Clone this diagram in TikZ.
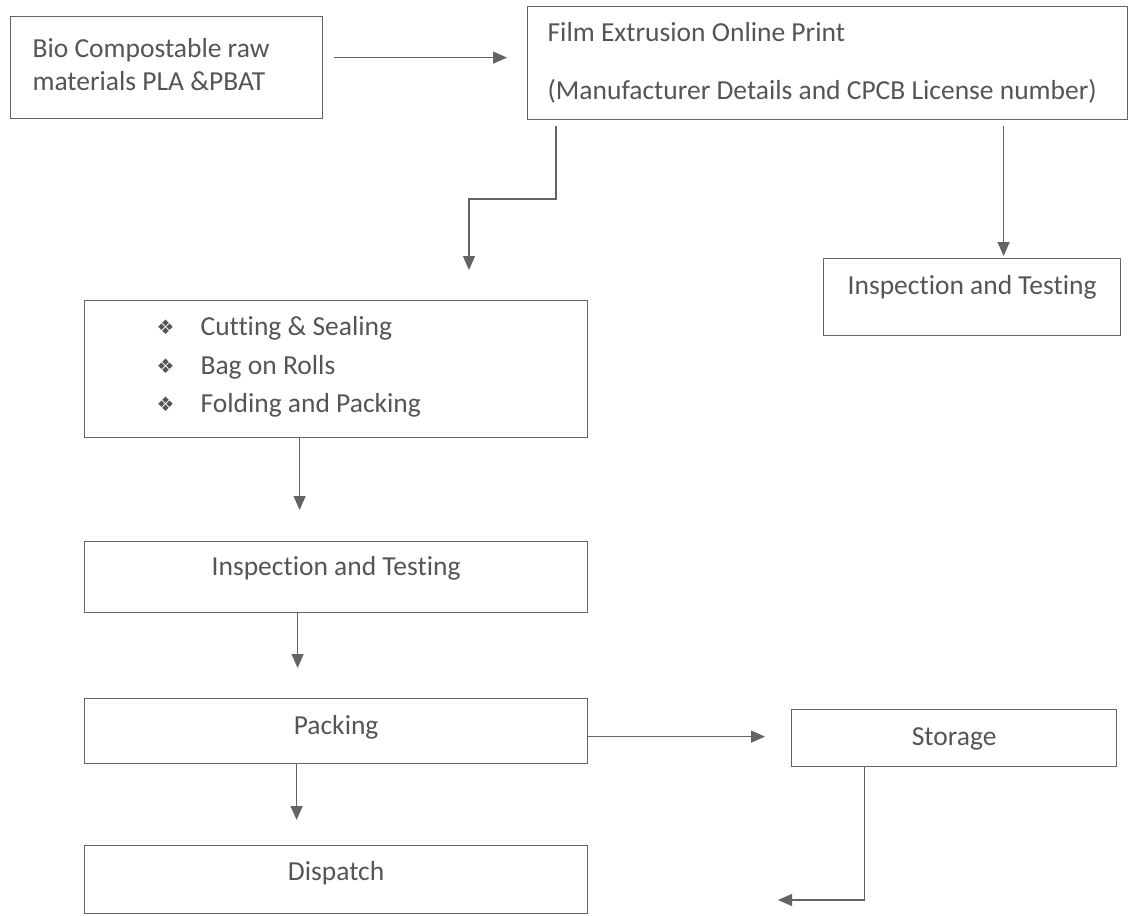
\documentclass[tikz,border=0pt]{standalone}
\usepackage{fontspec}
\setmainfont{Carlito}[Ligatures=NoCommon]
\newfontfamily\symfont{DejaVu Sans}
\usetikzlibrary{arrows.meta}
\definecolor{txtc}{RGB}{85,85,85}
\definecolor{lnc}{RGB}{100,100,100}
\newcommand{\bul}{{\symfont\fontsize{20}{20}\selectfont\raisebox{1pt}{❖}}}
\newcommand{\natsp}{\spaceskip=0pt\xspaceskip=0pt\relax}
\begin{document}
\begin{tikzpicture}[x=1pt,y=-1pt,
  box/.style={draw=lnc, line width=1.2pt, rectangle, inner ysep=0pt, text=txtc,
    font=\fontsize{27.5}{33}\selectfont, anchor=north west},
  arr/.style={draw=lnc, line width=1.2pt, -{Triangle[length=14pt,width=12pt]}}]
\fill[white] (0,0) rectangle (1129,915);
\useasboundingbox (0,0) rectangle (1129,915);

\node[box, inner xsep=22pt, text width=268pt, align=left, text height=41pt, text depth=61pt]
  (bio) at (10,16) {\natsp\mbox{Bio Compostable raw}\\\mbox{materials PLA \&PBAT}};
\node[box, inner xsep=20pt, text width=560pt, align=left, text height=35pt, text depth=78pt]
  (film) at (527,6) {\natsp\mbox{Film Extrusion Online Print}\\[25pt]\mbox{(Manufacturer Details and CPCB License number)}};
\node[box, inner xsep=0pt, minimum width=297pt, text height=36pt, text depth=41pt]
  (itr) at (823,258) {Inspection and Testing};
\node[box, inner xsep=0pt, text width=503pt, align=left, text height=35pt, text depth=102pt,
  font=\fontsize{27.5}{38.5}\selectfont]
  (cut) at (84,300) {\natsp\hspace*{72pt}\makebox[44pt][l]{\bul}\mbox{Cutting \& Sealing}\\
    \hspace*{72pt}\makebox[44pt][l]{\bul}\mbox{Bag on Rolls}\\
    \hspace*{72pt}\makebox[44pt][l]{\bul}\mbox{Folding and Packing}};
\node[box, inner xsep=0pt, minimum width=503pt, text height=34pt, text depth=37pt]
  (itm) at (84,541) {Inspection and Testing};
\node[box, inner xsep=0pt, minimum width=503pt, text height=36pt, text depth=29pt]
  (pack) at (84,698) {Packing};
\node[box, inner xsep=0pt, minimum width=503pt, text height=35pt, text depth=33pt]
  (disp) at (84,845) {Dispatch};
\node[box, inner xsep=0pt, minimum width=325pt, text height=36pt, text depth=21pt]
  (stor) at (791,709) {Storage};

\coordinate (bend) at (469,199);
\coordinate (stend) at (778,900);

\draw[arr, shorten <=11pt, shorten >=20pt] ([yshift=10pt]bio.east) -- ([yshift=10pt]bio.east -| film.west);
\draw[arr, shorten <=6pt, shorten >=30pt] ([xshift=29pt]film.south west) |- (bend) -- (bend |- cut.north);
\draw[arr, shorten <=6pt, shorten >=2pt] ([xshift=31.5pt]itr.north |- film.south) -- ([xshift=31.5pt]itr.north);
\draw[arr, shorten >=31pt] ([xshift=-36.5pt]cut.south) -- ([xshift=-36.5pt]cut.south |- itm.north);
\draw[arr, shorten >=30pt] ([xshift=-38.5pt]itm.south) -- ([xshift=-38.5pt]itm.south |- pack.north);
\draw[arr, shorten >=25pt] ([xshift=-39.5pt]pack.south) -- ([xshift=-39.5pt]pack.south |- disp.north);
\draw[arr, shorten >=26pt] ([yshift=-5.5pt]pack.east) -- ([yshift=-5.5pt]pack.east -| stor.west);
\draw[arr] ([xshift=-89.5pt]stor.south) |- (stend);
\end{tikzpicture}
\end{document}
